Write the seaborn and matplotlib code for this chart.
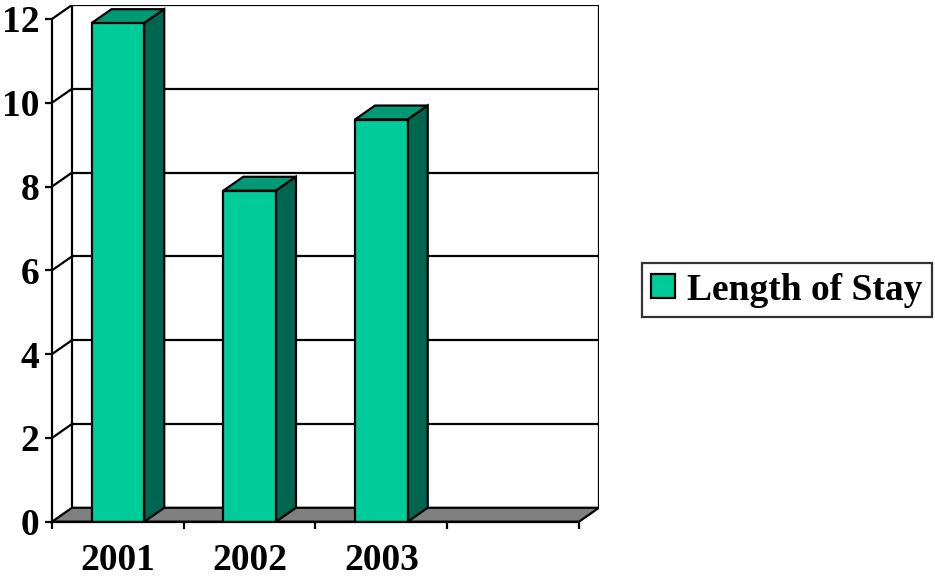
import matplotlib
matplotlib.use("Agg")
import matplotlib.pyplot as plt
from matplotlib.patches import Polygon, Patch
import seaborn as sns
import pandas as pd

# ---- data ----
years = ["2001", "2002", "2003"]
length_of_stay = [11.9, 7.9, 9.6]
series_name = "Length of Stay"
y_ticks = [0, 2, 4, 6, 8, 10, 12]
n_slots = 4  # the category axis has one empty slot at the right

# ---- style ----
FRONT = "#00CC99"
TOP = "#009973"
SIDE = "#006650"
FLOOR = "#808080"
LW = 1.6
FONT = "Liberation Serif"
FS = 27

sns.set_theme(style="white")
plt.rcParams["font.family"] = [FONT, "DejaVu Serif"]
plt.rcParams["font.weight"] = "bold"

fig = plt.figure(figsize=(9.35, 5.78), dpi=100)
# depth offset of the 3D box, in data units
DX = 0.152
DY = 0.333
ymax = max(y_ticks)
ax = fig.add_axes([52 / 935, (578 - 521.7) / 578, (599 - 52) / 935, (521.7 - 5) / 578])

df = pd.DataFrame({"year": years, "value": length_of_stay})
sns.barplot(data=df, x="year", y="value", order=years, color=FRONT, width=0.4,
            edgecolor="black", linewidth=LW, saturation=1, ax=ax, zorder=5)

x_lo, x_hi = -0.5, n_slots - 0.5
ax.set_xlim(x_lo, x_hi + DX)
ax.set_ylim(0, ymax + DY)

# back wall gridlines and frame
for t in y_ticks[1:]:
    ax.plot([x_lo + DX, x_hi + DX], [t + DY, t + DY], color="black", lw=LW, zorder=1,
            solid_capstyle="butt")
    ax.plot([x_lo, x_lo + DX], [t, t + DY], color="black", lw=LW, zorder=1)
ax.plot([x_hi + DX, x_hi + DX], [DY, ymax + DY], color="black", lw=LW, zorder=1)
ax.plot([x_lo + DX, x_lo + DX], [DY, ymax + DY], color="black", lw=LW, zorder=1)

# floor
floor = Polygon([(x_lo, 0), (x_hi, 0), (x_hi + DX, DY), (x_lo + DX, DY)], closed=True,
                facecolor=FLOOR, edgecolor="black", lw=LW, zorder=2)
ax.add_patch(floor)

# 3D faces for each bar, derived from the seaborn bars
for bar in list(ax.patches):
    if bar is floor:
        continue
    x0 = bar.get_x()
    w = bar.get_width()
    h = bar.get_height()
    x1 = x0 + w
    top = Polygon([(x0, h), (x1, h), (x1 + DX, h + DY), (x0 + DX, h + DY)], closed=True,
                  facecolor=TOP, edgecolor="black", lw=LW, zorder=4)
    side = Polygon([(x1, 0), (x1 + DX, DY), (x1 + DX, h + DY), (x1, h)], closed=True,
                   facecolor=SIDE, edgecolor="black", lw=LW, zorder=4)
    ax.add_patch(top)
    ax.add_patch(side)

# spines / axes
for s in ["top", "right"]:
    ax.spines[s].set_visible(False)
ax.spines["left"].set_bounds(0, ymax)
ax.spines["bottom"].set_bounds(x_lo, x_hi)
for s in ["left", "bottom"]:
    ax.spines[s].set_color("black")
    ax.spines[s].set_linewidth(LW)
    ax.spines[s].set_zorder(6)

ax.set_yticks(y_ticks)
ax.set_yticklabels([str(t) for t in y_ticks])
ax.set_xticks([i - 0.5 for i in range(n_slots + 1)])
ax.set_xticklabels([])
ax.set_xticks(range(len(years)), minor=True)
ax.set_xticklabels(years, minor=True)
ax.tick_params(axis="y", which="major", left=True, length=5, width=LW, color="black",
               pad=4, labelsize=FS)
ax.tick_params(axis="x", which="major", bottom=True, length=5, width=LW, color="black")
ax.tick_params(axis="x", which="minor", bottom=True, length=0, pad=15, labelsize=FS)
for lab in ax.get_xticklabels(minor=True) + ax.get_yticklabels():
    lab.set_fontweight("bold")
    lab.set_color("black")
ax.set_xlabel("")
ax.set_ylabel("")
ax.grid(False)
ax.set_facecolor("white")

# legend
handle = Patch(facecolor=FRONT, edgecolor="black", lw=LW, label=series_name)
leg = fig.legend(handles=[handle], loc="center left", bbox_to_anchor=(642 / 935, 1 - 290 / 578),
                 frameon=True, fancybox=False, prop={"family": FONT, "weight": "bold", "size": FS},
                 handlelength=0.62, handleheight=0.62, handletextpad=0.33, borderpad=0.25,
                 borderaxespad=0)
leg.get_frame().set_edgecolor("black")
leg.get_frame().set_linewidth(LW)
for txt in leg.get_texts():
    txt.set_color("black")

fig.savefig("out.png", dpi=100, facecolor="white")
